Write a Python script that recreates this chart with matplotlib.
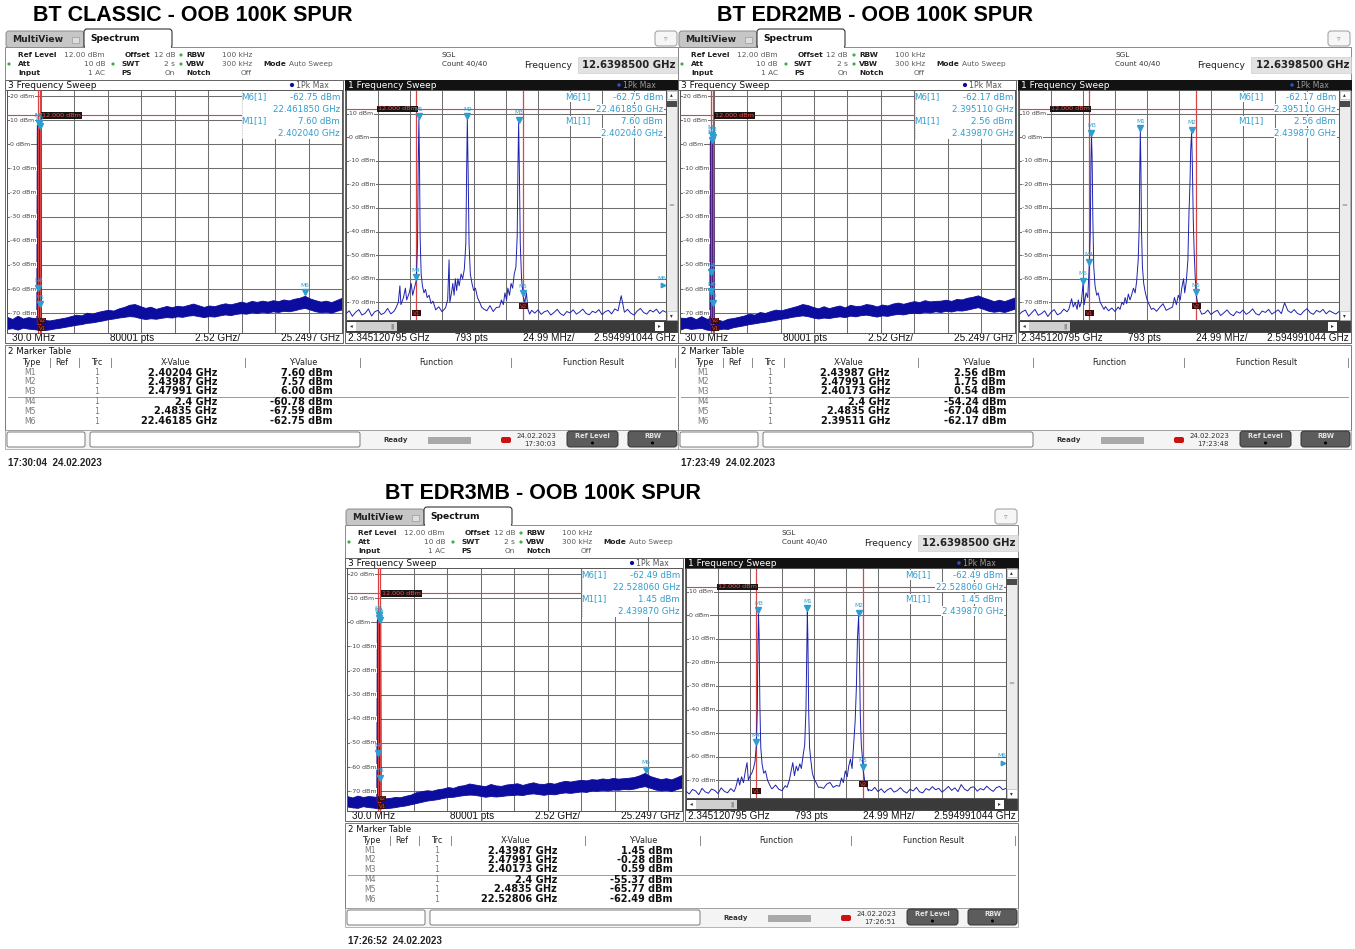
import numpy as np
import matplotlib.pyplot as plt
from matplotlib.patches import Rectangle, FancyBboxPatch, Circle
from matplotlib.transforms import blended_transform_factory, ScaledTranslation

# ---------------- values ----------------
marker_names = ["M1", "M2", "M3", "M4", "M5", "M6"]
wide_start, wide_stop = 0.03, 25.2497              # GHz, "3 Frequency Sweep"
zoom_start, zoom_stop = 2.345120795, 2.594991044   # GHz, "1 Frequency Sweep"
wide_foot = ["30.0 MHz", "80001 pts", "2.52 GHz/", "25.2497 GHz"]
zoom_foot = ["2.345120795 GHz", "793 pts", "24.99 MHz/", "2.594991044 GHz"]
v_lines = [2.4, 2.4835]      # V1 / V2 display lines (GHz)
ref_line = 12.0              # dBm
titles = ["BT CLASSIC - OOB 100K SPUR", "BT EDR2MB - OOB 100K SPUR", "BT EDR3MB - OOB 100K SPUR"]
status_times = ["17:30:03", "17:23:48", "17:26:51"]
stamps = ["17:30:04  24.02.2023", "17:23:49  24.02.2023", "17:26:52  24.02.2023"]

# marker table (GHz, dBm)
classic_mk_f = [2.40204, 2.43987, 2.47991, 2.4, 2.4835, 22.46185]
classic_mk_db = [7.60, 7.57, 6.00, -60.78, -67.59, -62.75]
edr2_mk_f = [2.43987, 2.47991, 2.40173, 2.4, 2.4835, 2.39511]
edr2_mk_db = [2.56, 1.75, 0.54, -54.24, -67.04, -62.17]
edr3_mk_f = [2.43987, 2.47991, 2.40173, 2.4, 2.4835, 22.52806]
edr3_mk_db = [1.45, -0.28, 0.59, -55.37, -65.77, -62.49]

# wideband noise band, upper / lower edge (dBm), evenly spread 30 MHz .. 25.25 GHz
classic_wide_hi = [-71.5, -72.4, -71.0, -72.2, -71.6, -72.0, -71.8, -72.8, -73.0, -72.6,
                   -72.2, -71.8, -71.2, -70.6, -70.9, -69.8, -70.2, -69.5, -69.0, -68.6,
                   -68.9, -68.0, -67.4, -66.5, -66.2, -67.0, -67.8, -67.3, -68.2, -67.6,
                   -67.0, -67.5, -66.9, -67.2, -66.6, -66.0, -66.7, -67.4, -66.8, -67.1,
                   -66.4, -65.9, -66.3, -65.8, -65.2, -65.7, -64.9, -65.3, -64.8, -65.2,
                   -64.6, -65.0, -64.3, -64.7, -64.0, -63.6, -62.8, -63.9, -64.6, -65.2,
                   -64.8, -65.4, -64.5, -63.6]
classic_wide_lo = [-76.5, -76.2, -76.8, -76.0, -76.4, -76.6, -76.9, -77.0, -76.7, -76.3,
                   -76.0, -75.6, -75.2, -74.8, -74.5, -74.0, -73.8, -73.4, -73.0, -72.5,
                   -72.2, -71.8, -71.5, -71.2, -71.4, -72.0, -72.4, -72.1, -72.3, -71.9,
                   -71.6, -71.8, -71.3, -71.5, -71.0, -70.8, -71.2, -71.6, -71.2, -71.4,
                   -70.9, -70.5, -70.8, -70.3, -70.0, -70.2, -69.6, -69.9, -69.4, -69.8,
                   -69.2, -69.5, -69.0, -69.2, -68.8, -68.2, -67.8, -68.5, -69.2, -69.6,
                   -69.4, -69.8, -69.0, -68.4]
edr2_wide_hi = [-71.8, -72.0, -71.4, -72.5, -71.2, -72.3, -72.0, -72.6, -73.2, -72.3,
                -72.0, -71.5, -71.0, -70.2, -70.6, -69.5, -69.9, -69.1, -68.5, -68.8,
                -68.2, -67.6, -67.0, -66.2, -66.6, -67.4, -68.0, -67.1, -67.9, -67.3,
                -66.8, -67.6, -66.5, -67.0, -66.9, -66.2, -66.5, -67.2, -66.4, -66.8,
                -66.0, -65.6, -66.1, -65.5, -65.0, -65.4, -64.6, -65.1, -64.9, -64.8,
                -64.4, -64.9, -64.1, -64.3, -63.6, -63.2, -62.6, -63.5, -64.2, -65.0,
                -64.4, -65.0, -64.2, -63.4]
edr2_wide_lo = [-76.8, -76.0, -76.5, -76.3, -76.1, -76.8, -77.1, -76.8, -76.4, -76.5,
                -75.8, -75.4, -75.0, -74.5, -74.2, -73.8, -73.5, -73.1, -72.7, -72.3,
                -72.0, -71.5, -71.2, -70.9, -71.2, -71.8, -72.2, -71.8, -72.0, -71.6,
                -71.3, -71.6, -71.0, -71.3, -70.8, -70.6, -71.0, -71.4, -70.9, -71.1,
                -70.6, -70.3, -70.5, -70.0, -69.8, -70.0, -69.4, -69.7, -69.2, -69.5,
                -69.0, -69.3, -68.8, -68.9, -68.5, -68.0, -67.5, -68.2, -69.0, -69.4,
                -69.1, -69.5, -68.8, -68.1]
edr3_wide_hi = [-72.0, -72.6, -71.8, -72.4, -72.0, -72.2, -72.5, -73.0, -72.8, -72.4,
                -72.5, -71.9, -71.4, -70.4, -70.0, -69.6, -69.8, -69.2, -68.9, -68.3,
                -68.6, -67.8, -67.5, -66.8, -67.2, -67.6, -67.9, -67.0, -67.6, -67.8,
                -67.2, -67.0, -66.7, -67.4, -66.8, -66.3, -66.9, -67.0, -66.5, -66.9,
                -66.2, -65.7, -66.0, -65.6, -65.3, -65.5, -65.0, -65.2, -64.7, -65.0,
                -64.5, -64.8, -64.6, -64.4, -64.1, -63.4, -62.4, -63.7, -64.4, -65.0,
                -64.6, -65.1, -64.2, -63.2]
edr3_wide_lo = [-76.3, -76.7, -76.9, -76.2, -76.6, -76.8, -77.2, -77.0, -76.9, -76.6,
                -76.2, -75.9, -75.4, -74.9, -74.4, -73.9, -73.6, -73.3, -72.8, -72.4,
                -72.3, -71.9, -71.6, -71.4, -71.5, -71.9, -72.3, -72.0, -72.2, -72.0,
                -71.7, -71.6, -71.4, -71.6, -71.1, -70.9, -71.2, -71.5, -71.1, -71.3,
                -70.8, -70.5, -70.7, -70.4, -70.1, -70.3, -69.7, -69.8, -69.5, -69.7,
                -69.3, -69.4, -69.1, -69.2, -68.9, -68.3, -67.9, -68.6, -69.3, -69.7,
                -69.5, -69.9, -69.1, -68.5]

# zoomed trace: noise floor (dBm) on an even grid over the zoom span
classic_zoom_floor = [-74.8, -73.6, -75.9, -74.2, -73.1, -75.4, -74.6, -72.8, -75.8, -74.0,
                      -73.4, -75.2, -74.5, -72.6, -74.9, -73.8, -71.5, -73.0, -70.6, -72.4,
                      -70.0, -71.8, -69.5, -70.8, -68.9, -70.5, -71.2, -72.0, -73.2, -71.9,
                      -74.0, -72.5, -73.0, -70.2, -71.6, -69.8, -70.5, -68.4, -69.6, -67.8,
                      -68.5, -69.9, -71.0, -72.8, -73.6, -71.4, -73.9, -72.2, -71.0, -70.3,
                      -69.2, -70.6, -68.0, -69.5, -66.8, -68.2, -70.5, -71.8, -73.4, -74.6,
                      -73.2, -75.1, -74.0, -73.5, -75.4, -74.3, -73.0, -74.8, -75.6, -73.9,
                      -74.5, -73.2, -75.0, -74.1, -72.9, -74.7, -75.3, -73.8, -74.4, -73.1,
                      -75.2, -74.0, -73.4, -74.9, -72.8, -73.6, -67.2, -74.2, -73.0, -74.6,
                      -75.4, -73.7, -72.6, -74.3, -75.0, -73.3, -74.1, -72.9, -74.8, -73.5, -74.2]
edr2_zoom_floor = [-75.2, -74.0, -73.3, -75.9, -74.4, -73.0, -75.5, -74.8, -73.6, -76.0,
                   -74.2, -73.1, -75.3, -74.6, -72.9, -74.0, -72.6, -71.0, -73.8, -72.2,
                   -71.5, -70.2, -69.0, -71.4, -70.0, -72.3, -73.0, -71.8, -73.6, -72.4,
                   -73.9, -72.0, -74.2, -71.3, -72.8, -70.4, -71.6, -69.5, -70.8, -68.6,
                   -69.4, -71.2, -72.5, -73.8, -72.1, -70.6, -73.4, -72.7, -71.2, -69.6,
                   -70.8, -68.4, -69.9, -67.5, -68.8, -70.6, -72.4, -73.6, -74.7, -73.3,
                   -75.2, -74.1, -73.4, -75.6, -74.5, -73.2, -74.9, -75.7, -73.9, -74.6,
                   -73.3, -75.1, -74.2, -72.8, -74.8, -75.4, -73.7, -74.3, -73.0, -75.0,
                   -74.1, -73.2, -74.8, -70.2, -73.5, -74.4, -73.1, -74.7, -75.3, -73.8,
                   -72.7, -74.4, -75.1, -73.4, -74.2, -73.0, -74.9, -73.6, -74.3, -75.0, -73.9]
edr3_zoom_floor = [-74.6, -75.8, -73.9, -74.5, -76.1, -73.4, -74.9, -75.5, -73.7, -74.3,
                   -75.6, -73.2, -74.7, -75.3, -73.5, -74.8, -72.4, -73.9, -71.6, -72.8,
                   -70.9, -72.2, -70.3, -71.5, -69.8, -71.7, -72.9, -73.5, -72.0, -73.8,
                   -74.4, -72.3, -73.1, -71.0, -72.7, -70.1, -71.9, -69.7, -70.6, -68.9,
                   -69.8, -71.5, -72.9, -73.4, -71.6, -70.9, -73.0, -72.2, -70.8, -69.4,
                   -70.3, -68.7, -69.6, -67.9, -69.1, -70.9, -72.6, -73.9, -74.4, -73.0,
                   -74.8, -73.6, -75.2, -74.0, -73.3, -75.0, -74.4, -73.1, -74.6, -75.4,
                   -73.8, -74.5, -73.0, -74.9, -75.3, -73.5, -74.2, -72.7, -74.0, -73.4,
                   -75.0, -73.9, -72.6, -74.3, -73.2, -74.8, -71.8, -73.7, -74.5, -73.0,
                   -72.8, -74.6, -73.5, -74.1, -72.5, -73.8, -74.7, -73.1, -72.6, -74.0, -73.4]

# zoomed trace around the three carriers (GHz, dBm)
classic_peaks_f = [
    [2.3840, 2.3860, 2.3872, 2.3880, 2.3900, 2.3915, 2.3925, 2.3945, 2.3960, 2.3972, 2.3985, 2.4000, 2.4010,
     2.4015, 2.40204, 2.4025, 2.4030, 2.4038, 2.4048, 2.4060, 2.4072, 2.4085, 2.4100, 2.4115, 2.4130, 2.4145],
    [2.4230, 2.4245, 2.4256, 2.4262, 2.4275, 2.4285, 2.4295, 2.4305, 2.4315, 2.4325, 2.4335, 2.4350, 2.4362,
     2.4375, 2.4387, 2.4393, 2.43987, 2.4405, 2.4412, 2.4422, 2.4435, 2.4448, 2.4462, 2.4478, 2.4495, 2.4510],
    [2.4650, 2.4665, 2.4680, 2.4692, 2.4705, 2.4715, 2.4728, 2.4740, 2.4752, 2.4765, 2.4778, 2.4788,
     2.4794, 2.47991, 2.4805, 2.4812, 2.4822, 2.4835, 2.4848, 2.4860, 2.4872, 2.4885, 2.4900]]
classic_peaks_db = [
    [-72.5, -70.0, -63.0, -71.0, -68.0, -64.0, -69.0, -66.0, -62.0, -67.0, -64.0, -60.8, -45.0,
     -12.0, 7.6, -10.0, -42.0, -58.0, -63.0, -66.0, -64.5, -68.0, -67.0, -70.5, -69.5, -72.0],
    [-72.0, -69.0, -52.0, -70.0, -66.0, -62.0, -67.0, -60.0, -65.0, -60.0, -63.0, -58.0, -60.0,
     -56.0, -45.0, -15.0, 7.57, -15.0, -45.0, -58.0, -62.0, -65.0, -64.0, -68.0, -70.0, -72.0],
    [-72.0, -69.0, -71.0, -66.0, -69.0, -64.0, -67.0, -62.0, -64.0, -58.0, -55.0, -42.0,
     -12.0, 6.0, -14.0, -45.0, -60.0, -67.6, -70.0, -66.0, -73.0, -75.0, -73.5]]
edr2_peaks_f = [
    [2.3840, 2.3862, 2.3875, 2.3890, 2.3905, 2.3914, 2.3925, 2.3938, 2.39511, 2.3960, 2.3975, 2.3988, 2.4000,
     2.4008, 2.4013, 2.40173, 2.4022, 2.4028, 2.4035, 2.4045, 2.4058, 2.4070, 2.4085, 2.4100, 2.4115],
    [2.4240, 2.4255, 2.4268, 2.4280, 2.4292, 2.4305, 2.4318, 2.4330, 2.4345, 2.4358, 2.4370, 2.4382,
     2.4390, 2.4394, 2.43987, 2.4403, 2.4408, 2.4415, 2.4425, 2.4438, 2.4452, 2.4468, 2.4485],
    [2.4650, 2.4665, 2.4680, 2.4695, 2.4710, 2.4722, 2.4736, 2.4745, 2.4758, 2.4770, 2.4778,
     2.4786, 2.4792, 2.47991, 2.4805, 2.4812, 2.4818, 2.4826, 2.4835, 2.4848, 2.4862, 2.4878]]
edr2_peaks_db = [
    [-73.0, -68.5, -72.0, -70.0, -73.0, -69.0, -72.0, -70.0, -62.2, -71.0, -66.0, -68.0, -54.2,
     -40.0, -10.0, 0.54, -8.0, -35.0, -55.0, -63.0, -67.0, -66.0, -70.0, -71.5, -73.0],
    [-73.0, -70.0, -71.0, -68.0, -70.5, -66.5, -69.0, -67.0, -64.0, -66.0, -61.0, -52.0,
     -38.0, -15.0, 2.56, -12.0, -40.0, -55.0, -62.0, -66.0, -69.0, -71.0, -73.0],
    [-72.0, -68.0, -71.0, -67.0, -69.0, -64.0, -60.0, -66.0, -61.0, -52.0, -33.0,
     -20.0, -5.0, 1.75, -12.0, -35.0, -47.0, -58.0, -67.0, -71.0, -73.0, -75.0]]
edr3_peaks_f = [
    [2.3840, 2.3858, 2.3870, 2.3885, 2.3900, 2.3915, 2.3928, 2.3938, 2.3952, 2.3965, 2.3978, 2.3990, 2.4000,
     2.4008, 2.4013, 2.40173, 2.4022, 2.4028, 2.4035, 2.4045, 2.4058, 2.4072, 2.4088, 2.4105, 2.4120],
    [2.4240, 2.4258, 2.4272, 2.4285, 2.4298, 2.4312, 2.4325, 2.4340, 2.4352, 2.4365, 2.4378,
     2.4388, 2.4394, 2.43987, 2.4403, 2.4409, 2.4416, 2.4425, 2.4438, 2.4452, 2.4468, 2.4485],
    [2.4650, 2.4665, 2.4680, 2.4695, 2.4710, 2.4722, 2.4735, 2.4748, 2.4760, 2.4772, 2.4782,
     2.4790, 2.47991, 2.4805, 2.4812, 2.4820, 2.4828, 2.4835, 2.4846, 2.4860, 2.4875]]
edr3_peaks_db = [
    [-73.0, -69.0, -72.0, -68.5, -71.0, -66.0, -62.5, -70.0, -68.0, -67.0, -65.0, -62.0, -55.4,
     -40.0, -12.0, 0.59, -8.0, -38.0, -56.0, -63.0, -67.0, -66.0, -70.0, -72.0, -73.5],
    [-73.0, -70.0, -66.0, -62.5, -68.0, -64.0, -66.0, -63.0, -65.0, -59.7, -55.0,
     -40.0, -15.0, 1.45, -10.0, -40.0, -56.0, -61.0, -67.0, -69.5, -71.0, -73.0],
    [-72.5, -69.0, -71.0, -66.0, -68.5, -64.0, -61.0, -65.0, -55.0, -45.0, -30.0,
     -10.0, -0.28, -15.0, -42.0, -55.0, -60.0, -65.8, -70.0, -72.0, -74.5]]

# ---------------- drawing ----------------
W, H = 1355, 949
UI = ['DejaVu Sans']
AR = ['Liberation Sans', 'DejaVu Sans']
CYAN = '#2e9dcf'
NAVY = '#0c0c9e'
RED = '#d84444'
GRID = '#6e6e6e'

fig = plt.figure(figsize=(W / 100, H / 100), dpi=100)
fig.patch.set_facecolor('white')
bg = fig.add_axes([0, 0, 1, 1], zorder=0)
bg.set_xlim(0, W)
bg.set_ylim(H, 0)
bg.axis('off')


def R(x0, y0, x1, y1, fc='white', ec='none', lw=0.7, z=1, r=0, ax=None):
    if r:
        p = FancyBboxPatch((x0, y0), x1 - x0, y1 - y0, boxstyle=f'round,pad=0,rounding_size={r}',
                           fc=fc, ec=ec, lw=lw, zorder=z)
    else:
        p = Rectangle((x0, y0), x1 - x0, y1 - y0, fc=fc, ec=ec, lw=lw, zorder=z)
    if ax is not None:
        p.set_transform(bg.transData)
        ax.add_patch(p)
    else:
        bg.add_patch(p)


def T(x, y, s, size=5.4, color='#333333', weight='normal', ha='left', va='center', fam=UI, ax=None, z=3, **kw):
    a = ax if ax is not None else bg
    return a.text(x, y, s, transform=bg.transData, fontsize=size, color=color, fontweight=weight,
                  ha=ha, va=va, family=fam, zorder=z, **kw)


def px_axes(x0, y0, x1, y1):
    return fig.add_axes([x0 / W, 1 - y1 / H, (x1 - x0) / W, (y1 - y0) / H], zorder=1)


def style_axes(ax, lo, hi, ylim):
    ax.set_xlim(lo, hi)
    ax.set_ylim(*ylim)
    ax.set_xticks(np.linspace(lo, hi, 11))
    ax.set_yticks(np.arange(-70, 21, 10))
    ax.grid(True, color=GRID, lw=0.75)
    ax.set_axisbelow(True)
    ax.tick_params(length=0, labelbottom=False, labelleft=False)
    for sp in ax.spines.values():
        sp.set_color('#555555')
        sp.set_linewidth(0.7)


def put_marker(ax, f, db, name):
    tri = ax.transData + ScaledTranslation(0, 2.4 / 72, fig.dpi_scale_trans)
    ax.plot([f], [db], marker='v', ms=4.2, color=CYAN, transform=tri, zorder=6, clip_on=False)
    ax.annotate(name, (f, db), xytext=(0, 5.5), textcoords='offset points', ha='center', va='bottom',
                fontsize=4.2, color=CYAN, family=UI, zorder=6)


def draw_panel(ox, oy, tx, title, mk_f, mk_db, w_hi, w_lo, z_floor, pk_f, pk_db, st_time, stamp):
    X = lambda v: ox + v
    Y = lambda v: oy + v

    T(tx, Y(-14), title, size=15.5, color='black', weight='bold', fam=AR)

    # tabs and header
    R(X(1), Y(2), X(79), Y(18.5), fc='#c6c6c6', ec='#8a8a8a', r=3)
    T(X(7), Y(10.5), 'MultiView', size=6.6, weight='bold', color='#222222')
    R(X(67), Y(7.5), X(74), Y(14), fc='#dedede', ec='#9a9a9a', lw=0.5, z=2)
    R(X(0), Y(18), X(673), Y(51), fc='white', ec='#8a8a8a', lw=0.7)
    R(X(79), Y(0), X(167), Y(19), fc='white', ec='#333333', lw=0.8, r=3, z=2)
    R(X(79.8), Y(16), X(166.2), Y(19.6), fc='white', z=2.5)
    T(X(85), Y(9.5), 'Spectrum', size=6.6, weight='bold', color='#111111')
    R(X(650), Y(2), X(672), Y(17), fc='#f6f6f6', ec='#9a9a9a', r=3)
    T(X(661), Y(9.5), '▿', size=5, color='#888888', ha='center')

    hl = dict(size=5.3, color='#1e1e1e', weight='bold')
    hv = dict(size=5.3, color='#5a5a5a')
    for x, y, s in [(13, 26, 'Ref Level'), (120, 26, 'Offset'), (181, 26, 'RBW'), (13, 35, 'Att'),
                    (116, 35, 'SWT'), (181, 35, 'VBW'), (258, 35, 'Mode'), (13, 44, 'Input'),
                    (116, 44, 'PS'), (181, 44, 'Notch')]:
        T(X(x), Y(y), s, **hl)
    for x, y, s in [(100, 26, '12.00 dBm'), (170, 26, '12 dB'), (247, 26, '100 kHz'), (100, 35, '10 dB'),
                    (170, 35, '2 s'), (247, 35, '300 kHz'), (100, 44, '1 AC'), (170, 44, 'On'),
                    (247, 44, 'Off')]:
        T(X(x), Y(y), s, ha='right', **hv)
    T(X(284), Y(35), 'Auto Sweep', **hv)
    for x, y in [(4, 35), (108, 35), (176, 26), (176, 35)]:
        bg.add_patch(Circle((X(x), Y(y)), 1.6, fc='#3fae49', ec='none', zorder=3))
    T(X(437), Y(26), 'SGL', size=5.3, color='#333333')
    T(X(437), Y(35), 'Count 40/40', size=5.3, color='#333333')
    T(X(519), Y(36), 'Frequency', size=6.7, color='#222222')
    R(X(573), Y(28), X(673), Y(44), fc='#e2e2e2', ec='#d0d0d0', lw=0.5)
    T(X(671), Y(36), '12.6398500 GHz', size=7.3, weight='bold', color='#222222', ha='right')

    # ---- wideband plot ----
    R(X(0), Y(51), X(338), Y(314), fc='white', ec='#666666')
    R(X(0), Y(51), X(338), Y(61), fc='white', ec='#666666')
    T(X(3), Y(56), '3 Frequency Sweep', size=6.5, color='#111111')
    bg.add_patch(Circle((X(287), Y(56)), 2.1, fc=NAVY, ec='none', zorder=3))
    T(X(291), Y(56), '1Pk Max', size=5.6, color='#555555')
    for x, s, ha in zip([7, 105, 190, 335], wide_foot, ['left', 'left', 'left', 'right']):
        T(X(x), Y(309), s, size=7.2, color='#111111', fam=AR, ha=ha)

    axL = px_axes(X(2), Y(61), X(337), Y(304))
    style_axes(axL, wide_start, wide_stop, (-78.2, 22.5))
    fg = np.linspace(wide_start, wide_stop, len(w_hi))
    axL.fill_between(fg, w_lo, w_hi, color=NAVY, lw=0.6, zorder=2)
    order = np.argsort(mk_f[:3])
    cf = [2.36] + [mk_f[i] for i in order] + [2.52]
    cd = [-74.0] + [mk_db[i] for i in order] + [-74.0]
    axL.plot(cf, cd, color='#2a168c', lw=2.4, zorder=3)
    for v in v_lines:
        axL.axvline(v, color=RED, lw=0.9, zorder=3.5)
    axL.axhline(ref_line, color=RED, lw=0.8, zorder=3.5)
    bl = blended_transform_factory(bg.transData, axL.transData)
    for v in range(-70, 21, 10):
        axL.text(X(5), v, f'{v} dBm', transform=bl, fontsize=4.5, color='#444444', va='center',
                 family=UI, zorder=4, bbox=dict(fc='white', ec='none', pad=0.3))
    axL.text(X(37), ref_line, '12.000 dBm', transform=bl, fontsize=4.6, color='#ff4a4a', va='center',
             family=UI, zorder=5, bbox=dict(fc='#161616', ec='none', pad=0.5))
    axL.text(v_lines[0], -73.2, 'V2', fontsize=4, color='#d05050', ha='left', va='center', zorder=5,
             bbox=dict(fc='#3a0c0c', ec='none', pad=0.4))
    axL.text(v_lines[0], -76.3, 'V1', fontsize=4, color='#d05050', ha='left', va='center', zorder=5,
             bbox=dict(fc='#3a0c0c', ec='none', pad=0.4))
    for f, db, nm in zip(mk_f, mk_db, marker_names):
        put_marker(axL, f, db, nm)
    R(X(237), Y(61.5), X(336.5), Y(110), fc='white', z=4.5, ax=axL)
    axL.plot([X(237), X(237)], [Y(62), Y(110)], transform=bg.transData, color='#bbbbbb', lw=0.6,
             ls=(0, (1, 1)), zorder=4.6)
    info = [(f'{marker_names[5]}[1]', f'{mk_db[5]:.2f} dBm'), ('', f'{mk_f[5]:.6f} GHz'),
            (f'{marker_names[0]}[1]', f'{mk_db[0]:.2f} dBm'), ('', f'{mk_f[0]:.6f} GHz')]
    for k, (a, b) in enumerate(info):
        yy = Y(68 + 12 * k)
        if a:
            T(X(236), yy, a, size=6.2, color=CYAN, ax=axL, z=6)
        T(X(335), yy, b, size=6.2, color=CYAN, ha='right', ax=axL, z=6)

    # ---- zoomed plot ----
    R(X(340), Y(51), X(673), Y(314), fc='white', ec='#666666')
    R(X(340), Y(51), X(673), Y(61), fc='#121212', ec='#121212')
    T(X(343), Y(56), '1 Frequency Sweep', size=6.5, color='white')
    bg.add_patch(Circle((X(614), Y(56)), 1.7, fc='#3050d8', ec='none', zorder=3))
    T(X(618), Y(56), '1Pk Max', size=5.6, color='#9a9a9a')
    for x, s, ha in zip([343, 450, 518, 671], zoom_foot, ['left', 'left', 'left', 'right']):
        T(X(x), Y(309), s, size=7.2, color='#111111', fam=AR, ha=ha)
    # scroll bars
    R(X(661), Y(61), X(672), Y(291), fc='#ececec', ec='#999999', lw=0.5)
    R(X(661.5), Y(61.5), X(671.5), Y(70), fc='white', ec='#aaaaaa', lw=0.4, z=2)
    R(X(661.5), Y(282), X(671.5), Y(290.5), fc='white', ec='#aaaaaa', lw=0.4, z=2)
    T(X(666.5), Y(66), '▴', size=4, color='#333333', ha='center')
    T(X(666.5), Y(286.5), '▾', size=4, color='#333333', ha='center')
    R(X(661.5), Y(72), X(671.5), Y(78), fc='#4a4a4a', z=2)
    T(X(666.5), Y(176), '=', size=5, color='#888888', ha='center')
    R(X(341), Y(291), X(672), Y(303), fc='#3a3a3a', ec='#222222', lw=0.5)
    R(X(342), Y(292.5), X(351), Y(301.5), fc='white', z=2)
    R(X(351), Y(292.5), X(392), Y(301.5), fc='#cfcfcf', z=2)
    T(X(346.5), Y(297), '◂', size=4, color='#333333', ha='center')
    T(X(387), Y(297), '||', size=4.5, color='#555555', ha='center')
    R(X(650), Y(292.5), X(659), Y(301.5), fc='white', z=2)
    T(X(654.5), Y(297), '▸', size=4, color='#333333', ha='center')

    axR = px_axes(X(341), Y(61), X(661), Y(291))
    style_axes(axR, zoom_start, zoom_stop, (-77.5, 18.3))
    zf = np.linspace(zoom_start, zoom_stop, len(z_floor))
    keep = np.ones(len(zf), bool)
    for pf in pk_f:
        keep &= ~((zf >= min(pf)) & (zf <= max(pf)))
    tf = np.concatenate([zf[keep]] + [np.array(p) for p in pk_f])
    td = np.concatenate([np.array(z_floor)[keep]] + [np.array(p) for p in pk_db])
    o = np.argsort(tf)
    axR.plot(tf[o], td[o], color='#1e22b0', lw=0.7, zorder=3)
    for v in v_lines:
        axR.axvline(v, color=RED, lw=0.9, zorder=2.5)
    axR.axhline(ref_line, color=RED, lw=0.8, zorder=2.5)
    br = blended_transform_factory(bg.transData, axR.transData)
    for v in range(-70, 11, 10):
        axR.text(X(344), v, f'{v} dBm', transform=br, fontsize=4.5, color='#444444', va='center',
                 family=UI, zorder=4, bbox=dict(fc='white', ec='none', pad=0.3))
    axR.text(X(373), ref_line, '12.000 dBm', transform=br, fontsize=4.6, color='#ff4a4a', va='center',
             family=UI, zorder=5, bbox=dict(fc='#161616', ec='none', pad=0.5))
    axR.text(v_lines[0], -74.6, 'V1', fontsize=4, color='#d05050', ha='center', va='center', zorder=5,
             bbox=dict(fc='#3a0c0c', ec='none', pad=0.5))
    axR.text(v_lines[1], -71.6, 'V2', fontsize=4, color='#d05050', ha='center', va='center', zorder=5,
             bbox=dict(fc='#3a0c0c', ec='none', pad=0.5))
    for f, db, nm in zip(mk_f, mk_db, marker_names):
        if zoom_start <= f <= zoom_stop:
            put_marker(axR, f, db, nm)
        else:
            side = axR.transData + ScaledTranslation(-2.5 / 72, 0, fig.dpi_scale_trans)
            axR.plot([zoom_stop], [db], marker='>', ms=3.2, color=CYAN, transform=side, zorder=6,
                     clip_on=False)
            axR.annotate(nm, (zoom_stop, db), xytext=(-3, 3), textcoords='offset points', ha='center',
                         va='bottom', fontsize=4.2, color=CYAN, family=UI, zorder=6)
    for k, (a, b) in enumerate(info):
        yy = Y(68 + 12 * k)
        if a:
            T(X(560), yy, a, size=6.2, color=CYAN, ax=axR, z=6,
              bbox=dict(fc='white', ec='none', pad=0.4))
        T(X(658), yy, b, size=6.2, color=CYAN, ha='right', ax=axR, z=6,
          bbox=dict(fc='white', ec='none', pad=0.4))

    # ---- marker table ----
    R(X(0), Y(316), X(673), Y(401), fc='white', ec='#7a7a7a')
    T(X(3), Y(322.5), '2 Marker Table', size=6.2, color='#111111')
    for x, s in [(26.5, 'Type'), (57, 'Ref'), (92, 'Trc'), (171, 'X-Value'), (298, 'Y-Value'),
                 (431, 'Function'), (589, 'Function Result')]:
        T(X(x), Y(333.5), s, size=5.8, color='#222222', ha='center')
    for x in [45, 74, 106, 240, 355, 506, 670]:
        bg.plot([X(x), X(x)], [Y(329), Y(338)], color='#8a8a8a', lw=0.7, zorder=3)
    bg.plot([X(3), X(670)], [Y(368), Y(368)], color='#9a9a9a', lw=0.7, zorder=3)
    for k, (nm, f, db) in enumerate(zip(marker_names, mk_f, mk_db)):
        yy = Y([343.5, 353, 362.5, 373, 382.5, 392.5][k])
        T(X(19), yy, nm, size=5.6, color='#7a7a7a')
        T(X(92), yy, '1', size=5.6, color='#7a7a7a', ha='center')
        T(X(212), yy, f'{f} GHz', size=7, weight='bold', color='#111111', ha='right')
        T(X(328), yy, f'{db:.2f} dBm', size=7, weight='bold', color='#111111', ha='right')

    # ---- status bar ----
    R(X(0), Y(401), X(673), Y(420), fc='#f4f4f4', ec='#9a9a9a', lw=0.5)
    R(X(2), Y(403), X(80), Y(418), fc='white', ec='#7a7a7a', r=2)
    R(X(85), Y(403), X(355), Y(418), fc='white', ec='#7a7a7a', r=2)
    T(X(378), Y(411), 'Ready', size=5, weight='bold', color='#333333')
    R(X(423), Y(407.5), X(465), Y(414), fc='#a9a9a9', ec='#8a8a8a', lw=0.4)
    R(X(496), Y(408), X(506), Y(414), fc='#cc1111', r=2)
    T(X(551), Y(406.5), '24.02.2023', size=5, color='#333333', ha='right')
    T(X(551), Y(414.5), st_time, size=5, color='#333333', ha='right')
    for x0, x1, s in [(562, 613, 'Ref Level'), (623, 672, 'RBW')]:
        R(X(x0), Y(402), X(x1), Y(418), fc='#5c5c5c', ec='#333333', r=3)
        T(X((x0 + x1) / 2), Y(406.5), s, size=4.8, weight='bold', color='#e4e4e4', ha='center')
        bg.add_patch(Circle((X((x0 + x1) / 2), Y(414)), 1.5, fc='black', ec='none', zorder=3))

    T(X(3), Y(433.5), stamp, size=7, weight='bold', color='#222222', fam=AR)


draw_panel(5, 29, 33, titles[0], classic_mk_f, classic_mk_db, classic_wide_hi, classic_wide_lo,
           classic_zoom_floor, classic_peaks_f, classic_peaks_db, status_times[0], stamps[0])
draw_panel(678, 29, 717, titles[1], edr2_mk_f, edr2_mk_db, edr2_wide_hi, edr2_wide_lo,
           edr2_zoom_floor, edr2_peaks_f, edr2_peaks_db, status_times[1], stamps[1])
draw_panel(345, 507, 385, titles[2], edr3_mk_f, edr3_mk_db, edr3_wide_hi, edr3_wide_lo,
           edr3_zoom_floor, edr3_peaks_f, edr3_peaks_db, status_times[2], stamps[2])

fig.savefig('out.png', dpi=100)
